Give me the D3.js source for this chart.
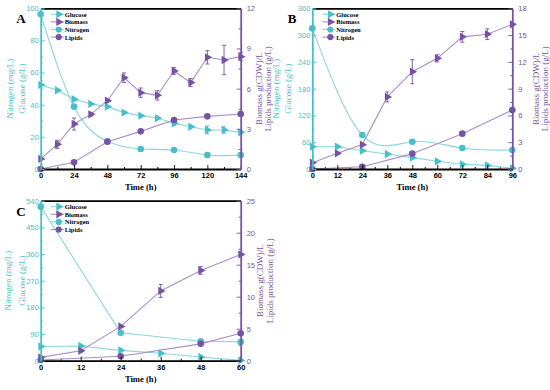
<!DOCTYPE html>
<html>
<head>
<meta charset="utf-8">
<script src="https://cdn.jsdelivr.net/npm/d3@7"></script>
<style>
  body { margin: 0; background: #fff; }
  svg { display: block; font-family: "Liberation Serif", "Times New Roman", serif; }
</style>
</head>
<body>
<div id="chart"></div>
<script>
// panel A
const hoursA = [0, 12, 24, 36, 48, 60, 72, 84, 96, 108, 120, 132, 144];
const glucoseA = [52.3, 49, 43.4, 40.5, 38.8, 35.1, 33.2, 31.7, 28.4, 26.3, 24.3, 24.3, 22.8];
const glucoseErrA = [0, 0, 0, 0, 0, 0, 0, 0, 1.5, 0, 2.5, 2, 1];
const biomassA = [0.75, 1.84, 3.36, 4.08, 5.1, 6.82, 5.7, 5.5, 7.32, 6.45, 8.34, 8.14, 8.39];
const biomassErrA = [0, 0.3, 0.45, 0.15, 0.1, 0.35, 0.35, 0.35, 0.25, 0.3, 0.5, 1.1, 0.3];
const sampleHoursA = [0, 24, 48, 72, 96, 120, 144];
const nitrogenA = [96.3, 38.8, 17.2, 12.4, 11.8, 8.7, 8.7];
const nitrogenErrA = [0, 0, 0, 0, 0, 1.5, 0];
const lipidsA = [0, 0.5, 2.04, 2.81, 3.66, 3.93, 4.11];
const lipidsErrA = [0, 0, 0, 0, 0, 0.15, 0];

// panel B
const hoursB = [0, 12, 24, 36, 48, 60, 72, 84, 96];
const glucoseB = [50, 50, 41, 33.6, 25.4, 17.2, 10.5, 8.2, 1.5];
const biomassB = [0.71, 1.76, 2.73, 8.07, 10.9, 12.4, 14.8, 15.1, 16.2];
const biomassErrB = [0, 0, 0, 0.56, 1.35, 0.4, 0.6, 0.6, 0];
const sampleHoursB = [0, 24, 48, 72, 96];
const nitrogenB = [315, 76, 61, 47, 42.6];
const lipidsB = [0, 0.26, 1.72, 3.96, 6.6];

// panel C
const hoursC = [0, 12, 24, 36, 48, 60];
const glucoseC = [48, 49.5, 35, 25, 12.5, 1];
const biomassC = [0.52, 1.56, 5.36, 10.9, 14.1, 16.6];
const biomassErrC = [0, 0, 0, 1.0, 0.6, 0];
const sampleHoursC = [0, 24, 48, 60];
const nitrogenC = [520, 94, 65.5, 63.5];
const lipidsC = [0.1, 0.7, 2.63, 4.3];

const legendLabels = ['Glucose', 'Biomass', 'Nitrogen', 'Lipids'];

const cyan = '#46bfca', cyanLine = '#8ad6dc';
const purple = '#7552a3', purpleLine = '#a690c8';

const zeros = n => new Array(n).fill(0);

const panels = [
  { label: 'A', x0: 40.7, y0: 8.3, x1: 240.7, y1: 169,
    xTicks: d3.range(0, 145, 24), lTicks: d3.range(0, 101, 20), rTicks: d3.range(0, 13, 3),
    lTitle: [-31, -18.7], rTitle: [17.8, 27.6], nitroCurve: d3.curveNatural,
    hours: hoursA, glucose: glucoseA, glucoseErr: glucoseErrA, biomass: biomassA, biomassErr: biomassErrA,
    sHours: sampleHoursA, nitrogen: nitrogenA, nitrogenErr: nitrogenErrA, lipids: lipidsA, lipidsErr: lipidsErrA },
  { label: 'B', x0: 312.3, y0: 8.3, x1: 512.3, y1: 169,
    xTicks: d3.range(0, 97, 12), lTicks: d3.range(0, 361, 60), rTicks: d3.range(0, 19, 3),
    lTitle: [-36.8, -24], rTitle: [23.5, 33], nitroCurve: d3.curveNatural,
    hours: hoursB, glucose: glucoseB, glucoseErr: zeros(9), biomass: biomassB, biomassErr: biomassErrB,
    sHours: sampleHoursB, nitrogen: nitrogenB, nitrogenErr: zeros(5), lipids: lipidsB, lipidsErr: zeros(5) },
  { label: 'C', x0: 40.7, y0: 200.7, x1: 240.7, y1: 360.7,
    xTicks: d3.range(0, 61, 12), lTicks: d3.range(0, 541, 90), rTicks: d3.range(0, 26, 5),
    lTitle: [-32.4, -19], rTitle: [19.3, 29.3], nitroCurve: d3.curveLinear,
    hours: hoursC, glucose: glucoseC, glucoseErr: zeros(6), biomass: biomassC, biomassErr: biomassErrC,
    sHours: sampleHoursC, nitrogen: nitrogenC, nitrogenErr: zeros(4), lipids: lipidsC, lipidsErr: zeros(4) }
];

const svg = d3.select('#chart').append('svg')
  .attr('width', 550)
  .attr('height', 390);

const triangle = d3.symbol().type(d3.symbolTriangle).size(30);

function drawSeries(g, xs, ys, errs, xScale, yScale, lineColor, markColor, shape, curve) {
  const pts = xs.map((x, i) => ({ x, y: ys[i], e: errs[i] }));
  g.append('path')
    .datum(pts)
    .attr('fill', 'none')
    .attr('stroke', lineColor)
    .attr('stroke-width', 1.1)
    .attr('d', d3.line().x(d => xScale(d.x)).y(d => yScale(d.y)).curve(curve));

  const eb = g.append('g').attr('stroke', markColor).attr('stroke-width', 0.9);
  pts.filter(d => d.e > 0).forEach(d => {
    const cx = xScale(d.x), top = yScale(d.y + d.e), bot = yScale(d.y - d.e);
    eb.append('line').attr('x1', cx).attr('x2', cx).attr('y1', top).attr('y2', bot);
    eb.append('line').attr('x1', cx - 2).attr('x2', cx + 2).attr('y1', top).attr('y2', top);
    eb.append('line').attr('x1', cx - 2).attr('x2', cx + 2).attr('y1', bot).attr('y2', bot);
  });

  if (shape === 'tri') {
    g.selectAll(null).data(pts).join('path')
      .attr('d', triangle)
      .attr('fill', markColor)
      .attr('transform', d => `translate(${xScale(d.x)},${yScale(d.y)}) rotate(90)`);
  } else {
    g.selectAll(null).data(pts).join('circle')
      .attr('cx', d => xScale(d.x))
      .attr('cy', d => yScale(d.y))
      .attr('r', 3.3)
      .attr('fill', markColor);
  }
}

function styleAxis(sel, color, width) {
  sel.select('.domain').attr('stroke', color).attr('stroke-width', width);
  sel.selectAll('.tick line').attr('stroke', color).attr('stroke-width', 0.9);
  sel.selectAll('.tick text').attr('fill', color);
}

panels.forEach(p => {
  const w = p.x1 - p.x0, h = p.y1 - p.y0;
  const g = svg.append('g').attr('transform', `translate(${p.x0},${p.y0})`);

  const xMax = d3.max(p.xTicks), lMax = d3.max(p.lTicks), rMax = d3.max(p.rTicks);
  const x = d3.scaleLinear().domain([0, xMax]).range([0, w]);
  const yL = d3.scaleLinear().domain([0, lMax]).range([h, 0]);
  const yR = d3.scaleLinear().domain([0, rMax]).range([h, 0]);

  const xStep = p.xTicks[1] - p.xTicks[0];
  const lStep = p.lTicks[1] - p.lTicks[0];
  const rStep = p.rTicks[1] - p.rTicks[0];

  // minor ticks
  g.append('g').attr('transform', `translate(0,${h})`)
    .call(d3.axisBottom(x).tickValues(d3.range(xStep / 2, xMax, xStep)).tickSize(-2).tickFormat(''))
    .call(s => { s.select('.domain').remove(); s.selectAll('line').attr('stroke', '#000'); });
  g.append('g')
    .call(d3.axisLeft(yL).tickValues(d3.range(lStep / 2, lMax, lStep)).tickSize(-2).tickFormat(''))
    .call(s => { s.select('.domain').remove(); s.selectAll('line').attr('stroke', cyan); });
  g.append('g').attr('transform', `translate(${w},0)`)
    .call(d3.axisRight(yR).tickValues(d3.range(rStep / 2, rMax, rStep)).tickSize(-2).tickFormat(''))
    .call(s => { s.select('.domain').remove(); s.selectAll('line').attr('stroke', purple); });

  // series
  drawSeries(g, p.sHours, p.nitrogen, p.nitrogenErr, x, yL, cyanLine, cyan, 'circ', p.nitroCurve);
  drawSeries(g, p.hours, p.glucose, p.glucoseErr, x, yL, cyanLine, cyan, 'tri', d3.curveLinear);
  drawSeries(g, p.sHours, p.lipids, p.lipidsErr, x, yR, purpleLine, purple, 'circ', d3.curveLinear);
  drawSeries(g, p.hours, p.biomass, p.biomassErr, x, yR, purpleLine, purple, 'tri', d3.curveLinear);

  // axes
  g.append('g').attr('transform', `translate(0,${h})`)
    .call(d3.axisBottom(x).tickValues(p.xTicks).tickSize(-4).tickPadding(4).tickSizeOuter(0))
    .call(s => styleAxis(s, '#000', 1.8))
    .call(s => s.selectAll('.tick text').attr('font-size', 7.5).attr('font-weight', 'bold').attr('font-family', null));
  g.append('g')
    .call(d3.axisTop(x).tickValues([]).tickSizeOuter(0))
    .call(s => styleAxis(s, '#000', 1.8));
  g.append('g')
    .call(d3.axisLeft(yL).tickValues(p.lTicks).tickSize(-4).tickPadding(2).tickSizeOuter(0))
    .call(s => styleAxis(s, cyan, 1.8))
    .call(s => s.selectAll('.tick text').attr('font-size', 7.5).attr('font-family', null));
  g.append('g').attr('transform', `translate(${w},0)`)
    .call(d3.axisRight(yR).tickValues(p.rTicks).tickSize(-4).tickPadding(6).tickSizeOuter(0))
    .call(s => styleAxis(s, purple, 1.8))
    .call(s => s.selectAll('.tick text').attr('font-size', 7.5).attr('font-family', null));

  // axis titles
  g.append('text')
    .attr('x', w / 2).attr('y', h + 21)
    .attr('text-anchor', 'middle')
    .attr('font-size', 8.6).attr('font-weight', 'bold')
    .text('Time (h)');

  const midY = h / 2;
  [['Nitrogen (mg/L)', p.lTitle[0], cyan], ['Glucose (g/L)', p.lTitle[1], cyan],
   ['Biomass g(CDW)/L', w + p.rTitle[0], purple], ['Lipids production (g/L)', w + p.rTitle[1], purple]]
    .forEach(([t, tx, c]) => {
      g.append('text')
        .attr('transform', `translate(${tx},${midY}) rotate(-90)`)
        .attr('text-anchor', 'middle')
        .attr('dominant-baseline', 'central')
        .attr('font-size', 9)
        .attr('fill', c)
        .text(t);
    });

  // panel letter
  svg.append('text')
    .attr('x', p.x0 - 24.5).attr('y', p.y0 + 15)
    .attr('font-size', 13).attr('font-weight', 'bold')
    .text(p.label);

  // legend
  const lg = g.append('g').attr('transform', `translate(10,6)`);
  const legendStyles = [
    [cyanLine, cyan, 'tri'], [purpleLine, purple, 'tri'],
    [cyanLine, cyan, 'circ'], [purpleLine, purple, 'circ']
  ];
  legendLabels.forEach((lab, i) => {
    const [lc, mc, shape] = legendStyles[i];
    const row = lg.append('g').attr('transform', `translate(0,${i * 7.6})`);
    row.append('line').attr('x1', 0).attr('x2', 13).attr('stroke', lc).attr('stroke-width', 1.1);
    if (shape === 'tri') {
      row.append('path').attr('d', triangle).attr('fill', mc).attr('transform', 'translate(8,0) rotate(90)');
    } else {
      row.append('circle').attr('cx', 8).attr('r', 3.1).attr('fill', mc);
    }
    row.append('text')
      .attr('x', 14).attr('y', 0)
      .attr('dominant-baseline', 'central')
      .attr('font-size', 6.5).attr('font-weight', 'bold')
      .text(lab);
  });
});
</script>
</body>
</html>
